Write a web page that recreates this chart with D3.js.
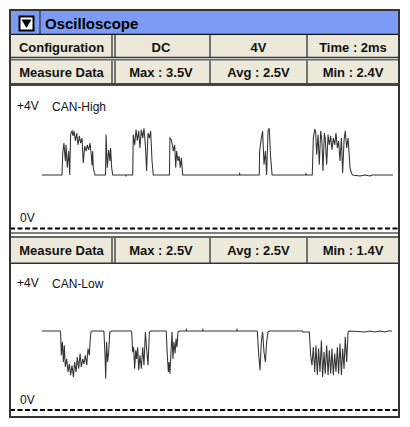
<!DOCTYPE html>
<meta charset="utf-8">
<style>
body { margin: 0; background: #fff; }
text { font-family: "Liberation Sans", Arial, sans-serif; }
.cell { font-size: 13px; font-weight: bold; fill: #111; }
.lbl { font-size: 12px; fill: #111; }
</style>
<svg width="410" height="427"></svg>
<script src="https://d3js.org/d3.v7.min.js"></script>
<script>

// header rows
var configRow = ["Configuration", "DC", "4V", "Time : 2ms"];
var measureHigh = ["Measure Data", "Max : 3.5V", "Avg : 2.5V", "Min : 2.4V"];
var measureLow = ["Measure Data", "Max : 2.5V", "Avg : 2.5V", "Min : 1.4V"];

// CAN-High trace: time (ms) and volts
var highT = [0, 1.14, 1.18, 1.25, 1.33, 1.37, 1.44, 1.52, 1.58, 1.63, 1.71, 1.77, 1.82, 1.90, 1.98, 2.05, 2.13, 2.20,
  2.28, 2.35, 2.43, 2.51, 2.58, 2.66, 2.74, 2.81, 2.85, 2.89, 2.92, 3.02,
  3.62, 3.65, 3.72, 3.80, 3.87, 3.91, 3.97, 4.03,
  4.76, 4.79, 4.81,
  5.17, 5.20, 5.28, 5.36, 5.43, 5.51, 5.58, 5.66, 5.74, 5.81, 5.89, 5.96, 6.04, 6.12, 6.19, 6.27, 6.34,
  7.26, 7.29, 7.37, 7.43, 7.48, 7.56, 7.62, 7.67, 7.75, 7.81, 7.88, 7.94, 8.02,
  11.24, 11.26, 11.29,
  12.38, 12.40, 12.50, 12.57, 12.65, 12.73, 12.80, 12.88, 12.95, 13.03, 13.11,
  15.01, 15.04, 15.07,
  15.40, 15.46, 15.54, 15.59, 15.65, 15.73, 15.80, 15.88, 15.95, 16.01, 16.09, 16.14, 16.22, 16.30, 16.37,
  16.45, 16.52, 16.60, 16.68, 16.75, 16.83, 16.90, 16.98, 17.06, 17.13, 17.21, 17.28, 17.36, 17.44, 17.49,
  17.55, 17.63, 17.70,
  18.12, 18.40, 18.69, 18.80, 20];
var highV = [2.5, 2.5, 2.99, 3.21, 2.81, 3.17, 2.66, 3.03, 2.5, 3.39, 3.48, 3.37, 3.48, 3.26, 3.43, 3.17, 3.37, 3.21,
  3.32, 2.77, 3.14, 3.03, 3.17, 3.06, 3.21, 2.94, 2.72, 3.03, 2.66, 2.5,
  2.5, 3.40, 2.66, 3.06, 2.81, 3.10, 2.66, 2.5,
  2.5, 2.48, 2.5,
  2.5, 3.40, 3.17, 3.51, 3.26, 3.48, 3.10, 3.51, 3.32, 3.54, 3.17, 2.59, 3.43, 3.32, 3.48, 2.81, 2.5,
  2.5, 3.32, 3.28, 3.17, 3.03, 3.17, 2.66, 3.03, 2.81, 2.92, 2.66, 2.88, 2.5,
  2.5, 2.53, 2.5,
  2.5, 3.03, 3.32, 3.48, 2.73, 3.03, 2.5, 3.48, 3.54, 2.88, 2.5,
  2.5, 2.53, 2.5,
  2.5, 3.32, 3.51, 3.48, 2.95, 3.40, 2.73, 3.48, 3.26, 2.59, 3.43, 3.32, 2.73, 3.40, 3.17,
  3.37, 3.06, 3.32, 3.17, 3.43, 3.10, 3.26, 2.81, 3.32, 2.54, 3.26, 3.48, 3.10, 3.32, 3.03,
  2.66, 2.54, 2.5,
  2.48, 2.5, 2.48, 2.5, 2.5];

// CAN-Low trace: time (ms) and volts
var lowT = [0, 1.03, 1.06, 1.10, 1.16, 1.22, 1.27, 1.33, 1.41, 1.48, 1.56, 1.63, 1.71, 1.79, 1.86, 1.94, 2.01, 2.09,
  2.17, 2.24, 2.32, 2.39, 2.47, 2.55, 2.62, 2.70, 2.74, 2.79, 2.85,
  3.50, 3.53, 3.59, 3.63, 3.68, 3.74, 3.80, 3.86, 3.91, 3.96,
  5.07, 5.11, 5.17, 5.22, 5.28, 5.34, 5.39, 5.45, 5.51, 5.58, 5.66, 5.74, 5.81, 5.89, 5.96, 6.04, 6.12, 6.19,
  7.07, 7.08, 7.14, 7.20, 7.24, 7.29, 7.35, 7.41, 7.46, 7.52, 7.58, 7.64, 7.69, 7.75, 7.84,
  8.20, 8.22, 8.24, 9.15, 9.17, 9.19, 11.09, 11.11, 11.13,
  12.25, 12.27, 12.35, 12.42, 12.50, 12.57, 12.65, 12.73, 12.80, 12.88, 12.95,
  14.85, 14.87, 15.23, 15.31, 15.38, 15.46, 15.54, 15.61, 15.69, 15.76, 15.84, 15.92, 15.99, 16.07, 16.14,
  16.22, 16.30, 16.37, 16.45, 16.52, 16.60, 16.68, 16.75, 16.83, 16.90, 16.98, 17.06, 17.13, 17.21, 17.28,
  17.36, 17.44, 17.51,
  18.40, 18.69, 18.97, 19.26, 19.54, 19.72, 19.94];
var lowV = [2.5, 2.5, 2.48, 1.96, 2.26, 1.81, 2.18, 1.70, 1.88, 1.59, 1.77, 1.52, 1.74, 1.48, 1.81, 1.59, 1.92, 1.66,
  2.00, 1.70, 1.88, 1.77, 1.96, 1.74, 2.11, 1.96, 2.26, 2.48, 2.5,
  2.5, 2.48, 1.96, 1.44, 2.26, 1.81, 2.03, 2.48, 2.48, 2.5,
  2.5, 2.48, 2.03, 2.14, 1.66, 2.07, 1.88, 2.14, 1.63, 1.96, 1.66, 2.14, 1.74, 2.48, 2.11, 1.74, 2.48, 2.5,
  2.5, 2.48, 1.96, 1.59, 1.81, 1.55, 2.03, 2.48, 1.88, 2.26, 2.00, 2.33, 2.14, 2.48, 2.5,
  2.5, 2.53, 2.5, 2.5, 2.53, 2.5, 2.5, 2.53, 2.5,
  2.5, 2.48, 1.96, 1.63, 2.26, 2.48, 2.03, 1.81, 2.26, 2.48, 2.5,
  2.5, 2.48, 2.48, 1.96, 1.74, 2.14, 1.59, 2.18, 1.52, 2.11, 1.59, 2.29, 1.48, 2.03, 1.55,
  2.18, 1.52, 2.07, 1.55, 2.11, 1.52, 2.00, 1.59, 2.14, 1.55, 2.22, 1.52, 2.11, 1.66, 2.37,
  1.81, 2.48, 2.5,
  2.48, 2.5, 2.48, 2.5, 2.48, 2.5, 2.5];

var svg = d3.select("svg");

var L = 10, R = 399;
var cols = [11, 112, 210, 307, 399];   // column edges
var dark = "#333", beige = "#ece9da";

var x = d3.scaleLinear().domain([0, 20]).range([42, 393]);
var yHigh = d3.scaleLinear().domain([0, 4]).range([287.5, 107.5]);
var yLow = d3.scaleLinear().domain([0, 4]).range([443.5, 263.5]);

function hline(y, w, c) {
  svg.append("line").attr("x1", L).attr("x2", R).attr("y1", y).attr("y2", y)
    .attr("stroke", c || dark).attr("stroke-width", w || 1.5);
}

function vline(xx, y1, y2, w) {
  svg.append("line").attr("x1", xx).attr("x2", xx).attr("y1", y1).attr("y2", y2)
    .attr("stroke", dark).attr("stroke-width", w || 1.5);
}

/************* TITLE BAR ***************/
svg.append("rect").attr("x", L).attr("y", 10).attr("width", R - L).attr("height", 24)
  .attr("fill", "#7b9bf5");
svg.append("rect").attr("x", 18.5).attr("y", 15.5).attr("width", 16).attr("height", 16).attr("fill", "#000");
svg.append("rect").attr("x", 20.5).attr("y", 17.5).attr("width", 12).attr("height", 12).attr("fill", "#fff");
svg.append("path").attr("d", "M21.5,19.5 L31.5,19.5 L26.5,28 Z").attr("fill", "#000");
vline(40, 10, 34, 1.2);
svg.append("text").attr("x", 45).attr("y", 28.5)
  .style("font-size", "15px").style("font-weight", "bold").attr("fill", "#000")
  .text("Oscilloscope");
hline(34.5, 1.5, "#111");

/************* HEADER ROWS ***************/
function row(y0, y1, labels) {
  svg.append("rect").attr("x", L).attr("y", y0).attr("width", R - L).attr("height", y1 - y0)
    .attr("fill", beige);
  vline(cols[1], y0, y1, 1.3);
  vline(cols[1] + 3, y0, y1, 1.3);
  vline(cols[2], y0, y1, 1.3);
  vline(cols[3], y0, y1, 1.3);
  svg.selectAll(null).data(labels).enter().append("text")
    .attr("class", "cell")
    .attr("text-anchor", "middle")
    .attr("x", function(d, i) { return i == 0 ? 61.5 : (cols[i] + cols[i + 1]) / 2; })
    .attr("y", y0 + 16.5)
    .text(function(d) { return d; });
}

row(35, 57, configRow);
hline(57.5, 1.3);
hline(60, 1.3);
row(60.5, 83, measureHigh);
hline(84.5, 3, "#444");

/************* PLOTS ***************/
var line = function(ys) {
  return d3.line().x(function(d) { return x(d[0]); }).y(function(d) { return ys(d[1]); });
};

function panel(y0, dashY, label, ys, tt, vv) {
  svg.append("text").attr("class", "lbl").attr("x", 17).attr("y", y0 + 24).text("+4V");
  svg.append("text").attr("class", "lbl").attr("x", 52).attr("y", y0 + 25).text(label);
  svg.append("text").attr("class", "lbl").attr("x", 20).attr("y", dashY - 6.5).text("0V");
  svg.append("line").attr("x1", L).attr("x2", R).attr("y1", dashY).attr("y2", dashY)
    .attr("stroke", "#000").attr("stroke-width", 2.2).attr("stroke-dasharray", "5,2.5");
  svg.append("path")
    .datum(d3.zip(tt, vv))
    .attr("fill", "none")
    .attr("stroke", "#333")
    .attr("stroke-width", 1.05)
    .attr("d", line(ys));
}

panel(86, 228.5, "CAN-High", yHigh, highT, highV);
hline(233, 1.3, "#555");
hline(237, 1.5);
row(238, 263, measureLow);
hline(263.3, 1.5);
panel(263, 410, "CAN-Low", yLow, lowT, lowV);
hline(417, 1.5);

/************* OUTER FRAME ***************/
svg.append("rect").attr("x", L).attr("y", 10).attr("width", R - L).attr("height", 407)
  .attr("fill", "none").attr("stroke", dark).attr("stroke-width", 2);

</script>
